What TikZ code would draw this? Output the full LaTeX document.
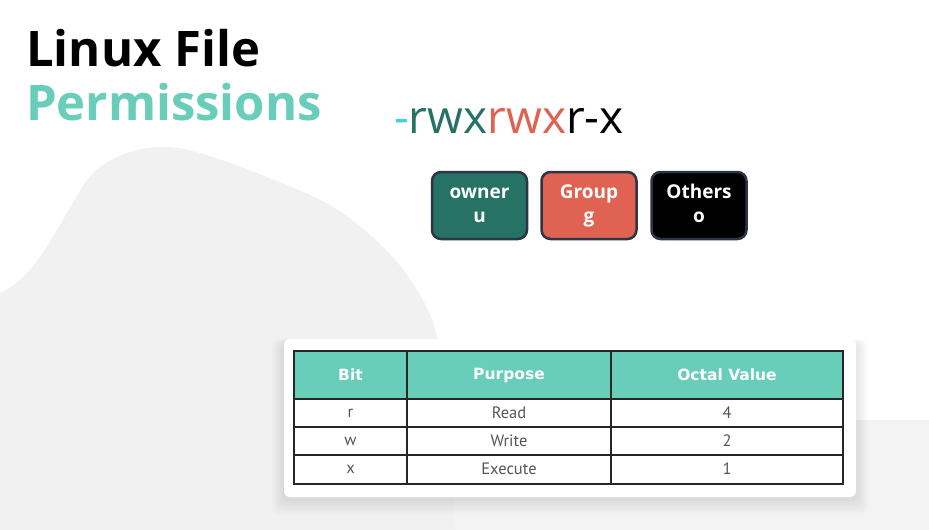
\documentclass[tikz,border=0pt]{standalone}
\usepackage{fontspec}
\setmainfont{Open Sans}
\newfontfamily\tablefont{PT Sans}
\newfontfamily\headfont{DejaVu Sans}
\definecolor{ownercol}{HTML}{267366}
\definecolor{groupcol}{HTML}{E06252}
\definecolor{dashcyan}{HTML}{3FD3D8}
\definecolor{titleteal}{HTML}{68CDB9}
\definecolor{boxborder}{HTML}{2B3544}
\definecolor{blobgray}{HTML}{F1F1F1}
\definecolor{bandgray}{HTML}{F3F3F3}
\definecolor{bodytext}{HTML}{555555}
\begin{document}
\begin{tikzpicture}[x=1pt,y=-1pt,
  permbox/.style={draw=boxborder, line width=2.5pt, rounded corners=9pt,
    minimum width=95pt, minimum height=67pt, text=white, align=center,
    font=\fontsize{19}{24}\selectfont\bfseries},
  headcell/.style={text=white, font=\headfont\fontsize{15.5}{16}\selectfont\bfseries},
  bodycell/.style={text=bodytext, font=\tablefont\fontsize{16.5}{17}\selectfont},
  gridline/.style={line width=1.2pt, draw=black!85}]
\useasboundingbox (0,0) rectangle (929,530);
\fill[white] (0,0) rectangle (929,530);
% soft background shapes
\fill[bandgray] (0,420) rectangle (929,530);
\fill[blobgray] plot[smooth, tension=0.6] coordinates {(0,293) (20,280) (43,253) (67,213) (93,173) (127,153) (163,147) (200,153) (267,177) (333,207) (383,247) (417,290) (437,337) (447,420) (455,530)} -- (0,530) -- cycle;
% card shadow
\foreach \i in {1,...,8}
  \fill[black, opacity=0.012, rounded corners=8pt]
    (284-1.5*\i, 339-0.5*\i+4) rectangle (856+1.5*\i, 497+2*\i+2);
% card
\fill[white, rounded corners=6pt] (284,339) rectangle (856,497);
% title
\node[anchor=base west, inner sep=0, font=\fontsize{49}{49}\selectfont\bfseries] (title1) at (26,66) {Linux File};
\node[anchor=base west, inner sep=0, text=titleteal, font=\fontsize{49}{49}\selectfont\bfseries] (title2) at (26,120) {Permissions};
% permission string
\node[anchor=base, inner sep=0, font=\fontsize{46}{46}\selectfont] (perm) at (509,133)
  {\textcolor{dashcyan}{-}\textcolor{ownercol}{rwx}\textcolor{groupcol}{rwx}\textcolor{black}{r-x}};
% user classes
\node[permbox, fill=ownercol] (owner) at (479.5,205.5) {\strut owner\\\strut u};
\node[permbox, fill=groupcol] (group) at (589,205.5) {\strut Group\\\strut g};
\node[permbox, fill=black] (others) at (699,205.5) {\strut Others\\\strut o};
% table
\fill[titleteal] (294,351) rectangle (843,399);
\draw[gridline] (294,351) rectangle (843,484);
\draw[gridline] (294,399) -- (843,399);
\draw[gridline] (294,427) -- (843,427);
\draw[gridline] (294,455) -- (843,455);
\draw[gridline] (407,351) -- (407,484);
\draw[gridline] (611,351) -- (611,484);
\node[headcell] (hbit) at (350.5,375) {Bit};
\node[headcell] (hpurpose) at (509,375) {Purpose};
\node[headcell] (hoctal) at (727,375) {Octal Value};
\node[bodycell] (b1) at (350.5,413) {r};
\node[bodycell] (p1) at (509,413) {Read};
\node[bodycell] (o1) at (727,413) {4};
\node[bodycell] (b2) at (350.5,441) {w};
\node[bodycell] (p2) at (509,441) {Write};
\node[bodycell] (o2) at (727,441) {2};
\node[bodycell] (b3) at (350.5,469) {x};
\node[bodycell] (p3) at (509,469) {Execute};
\node[bodycell] (o3) at (727,469) {1};
\end{tikzpicture}
\end{document}
